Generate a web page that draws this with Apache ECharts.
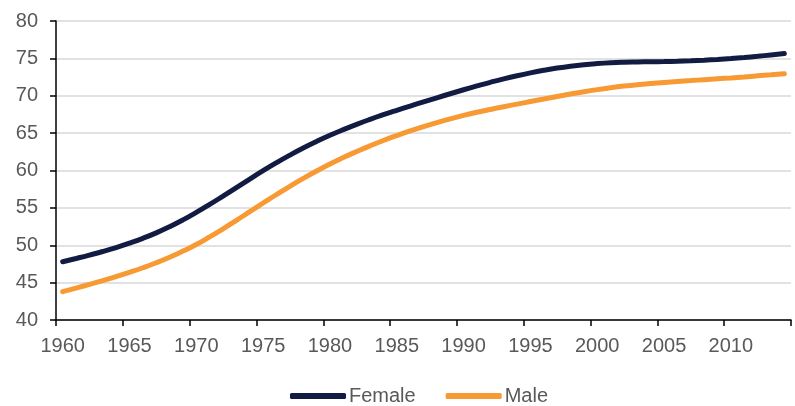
<!DOCTYPE html>
<html>
<head>
<meta charset="utf-8">
<script src="https://cdn.jsdelivr.net/npm/echarts@6/dist/echarts.min.js"></script>
<style>
  html, body { margin: 0; padding: 0; background: #ffffff; }
  #chart { width: 795px; height: 406px; }
</style>
</head>
<body>
<div id="chart"></div>
<script>
// Life expectancy at birth, by sex (years), 1960-2014
const years = [
  '1960', '1961', '1962', '1963', '1964', '1965', '1966', '1967', '1968', '1969',
  '1970', '1971', '1972', '1973', '1974', '1975', '1976', '1977', '1978', '1979',
  '1980', '1981', '1982', '1983', '1984', '1985', '1986', '1987', '1988', '1989',
  '1990', '1991', '1992', '1993', '1994', '1995', '1996', '1997', '1998', '1999',
  '2000', '2001', '2002', '2003', '2004', '2005', '2006', '2007', '2008', '2009',
  '2010', '2011', '2012', '2013', '2014'
];

const female = [
  47.80, 48.23, 48.68, 49.16, 49.69, 50.28, 50.93, 51.66, 52.48, 53.39,
  54.39, 55.46, 56.58, 57.72, 58.86, 59.98, 61.05, 62.06, 63.01, 63.89,
  64.71, 65.47, 66.18, 66.84, 67.46, 68.05, 68.62, 69.18, 69.73, 70.27,
  70.80, 71.31, 71.80, 72.26, 72.68, 73.06, 73.40, 73.70, 73.95, 74.15,
  74.30, 74.41, 74.48, 74.52, 74.55, 74.58, 74.62, 74.68, 74.76, 74.86,
  74.98, 75.12, 75.28, 75.46, 75.65
];

const male = [
  43.80, 44.27, 44.76, 45.27, 45.81, 46.38, 46.99, 47.66, 48.40, 49.22,
  50.10, 51.12, 52.20, 53.33, 54.49, 55.65, 56.79, 57.89, 58.94, 59.93,
  60.86, 61.73, 62.54, 63.30, 64.01, 64.67, 65.29, 65.87, 66.41, 66.91,
  67.37, 67.79, 68.17, 68.53, 68.88, 69.22, 69.56, 69.90, 70.23, 70.54,
  70.82, 71.07, 71.29, 71.48, 71.64, 71.78, 71.91, 72.03, 72.15, 72.27,
  72.39, 72.52, 72.66, 72.80, 72.95
];

const seriesNames = ['Female', 'Male'];
const colors = ['#121c42', '#f79a33'];
const yMin = 40, yMax = 80, yStep = 5;

const FONT = '"Liberation Sans", Arial, sans-serif';
const TEXT = '#595959';

const chart = echarts.init(document.getElementById('chart'), null, { renderer: 'canvas' });

chart.setOption({
  animation: false,
  backgroundColor: '#ffffff',
  color: colors,
  grid: { left: 56, right: 4, top: 21, bottom: 86, containLabel: false },
  legend: {
    left: 285,
    top: 381,
    itemWidth: 56,
    itemHeight: 6,
    itemGap: 30,
    icon: 'roundRect',
    textStyle: { color: TEXT, fontSize: 20, fontFamily: FONT, padding: [0, 0, 0, -2] },
    data: seriesNames
  },
  xAxis: {
    type: 'category',
    data: years,
    boundaryGap: true,
    axisLine: { show: true, lineStyle: { color: '#000000', width: 1.5 } },
    axisTick: { show: true, interval: 4, length: 6, lineStyle: { color: '#000000', width: 1.5 } },
    axisLabel: { interval: 4, color: TEXT, fontSize: 20, fontFamily: FONT, margin: 16 },
    splitLine: { show: false }
  },
  yAxis: {
    type: 'value',
    min: yMin,
    max: yMax,
    interval: yStep,
    axisLine: { show: true, lineStyle: { color: '#000000', width: 1.5 } },
    axisTick: { show: true, length: 6, lineStyle: { color: '#000000', width: 1.5 } },
    axisLabel: { color: TEXT, fontSize: 20, fontFamily: FONT, margin: 18 },
    splitLine: { show: true, lineStyle: { color: '#d9d9d9', width: 1.5 } }
  },
  series: [
    {
      name: seriesNames[0],
      type: 'line',
      data: female,
      smooth: true,
      showSymbol: false,
      lineStyle: { width: 5, cap: 'round' }
    },
    {
      name: seriesNames[1],
      type: 'line',
      data: male,
      smooth: true,
      showSymbol: false,
      lineStyle: { width: 5, cap: 'round' }
    }
  ]
});
</script>
</body>
</html>
